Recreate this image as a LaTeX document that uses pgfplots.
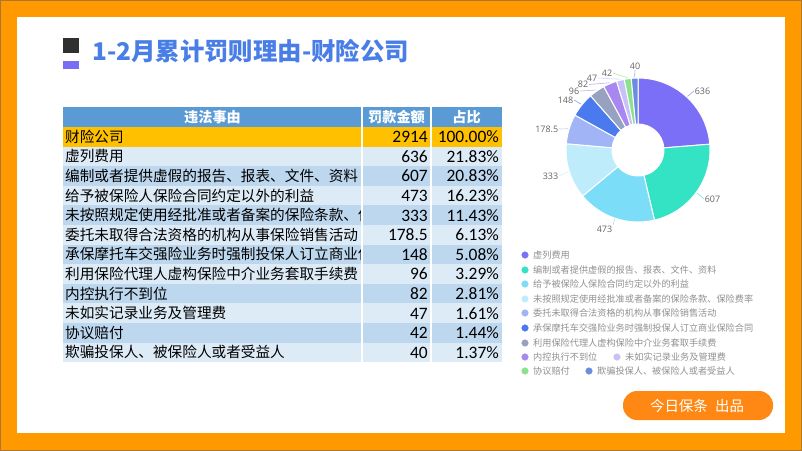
\documentclass[border=0pt]{standalone}
\usepackage{pgfplots}
\pgfplotsset{compat=1.18}
\usepackage{fontspec}
\setmainfont{Carlito}
\newfontfamily\cjk{Noto Sans CJK SC}
\newfontfamily\lab{Open Sans}
\usetikzlibrary{calc}
\definecolor{frame}{RGB}{255,153,0}
\definecolor{frameedge}{RGB}{170,120,50}
\definecolor{titleblue}{RGB}{72,126,230}
\definecolor{darksq}{RGB}{48,48,48}
\definecolor{purplesq}{RGB}{123,108,246}
\definecolor{hdrblue}{RGB}{91,155,213}
\definecolor{rowor}{RGB}{255,192,0}
\definecolor{rowL}{RGB}{221,235,247}
\definecolor{rowD}{RGB}{189,215,238}
\definecolor{btn}{RGB}{255,136,20}
\definecolor{legtext}{RGB}{145,145,145}
\definecolor{labtext}{RGB}{100,100,100}
\definecolor{c1}{RGB}{123,111,247}
\definecolor{c2}{RGB}{52,226,196}
\definecolor{c3}{RGB}{124,221,248}
\definecolor{c4}{RGB}{190,236,250}
\definecolor{c5}{RGB}{160,180,246}
\definecolor{c6}{RGB}{74,122,238}
\definecolor{c7}{RGB}{150,162,192}
\definecolor{c8}{RGB}{168,136,240}
\definecolor{c9}{RGB}{200,192,248}
\definecolor{c10}{RGB}{140,226,140}
\definecolor{c11}{RGB}{108,140,224}
\begin{document}
\begin{tikzpicture}
\begin{axis}[
  width=802bp, height=451bp, scale only axis,
  xmin=0, xmax=802, ymin=0, ymax=451, y dir=reverse,
  hide axis, clip=false,
]
% frame
\fill[frame] (axis cs:0,0) rectangle (axis cs:802,451);
\draw[frameedge, line width=1bp] (axis cs:0.5,0.5) rectangle (axis cs:801.5,450.5);
\fill[white] (axis cs:17,17) rectangle (axis cs:785,433);
% title
\fill[darksq] (axis cs:63,38) rectangle (axis cs:79,53);
\fill[purplesq] (axis cs:63,61) rectangle (axis cs:79,69);
\node[anchor=base west, inner sep=0, text=titleblue, font=\cjk\bfseries\fontsize{24.5}{24.5}\selectfont] at (axis cs:92,60.5) {1-2月累计罚则理由-财险公司};
% table
\pgfplotsextra{
  \fill[hdrblue] (axis cs:63,107) rectangle (axis cs:502,127);
  \foreach \i in {0,...,11}{
    \pgfmathsetmacro\yt{127+19.6*\i}
    \pgfmathsetmacro\yb{127+19.6*(\i+1)}
    \ifnum\i=0 \def\rc{rowor}\else\ifodd\i \def\rc{rowL}\else\def\rc{rowD}\fi\fi
    \fill[\rc] (axis cs:63,\yt) rectangle (axis cs:502,\yb);
  }
  \draw[white, line width=1.2bp] (axis cs:362,107) -- (axis cs:362,362.2);
  \draw[white, line width=1.2bp] (axis cs:431,107) -- (axis cs:431,362.2);
  \node[anchor=base, inner sep=0, text=white, font=\cjk\bfseries\fontsize{14.2}{14.2}\selectfont] at (axis cs:212.5,122.3) {违法事由};
  \node[anchor=base, inner sep=0, text=white, font=\cjk\bfseries\fontsize{14.2}{14.2}\selectfont] at (axis cs:396.5,122.3) {罚款金额};
  \node[anchor=base, inner sep=0, text=white, font=\cjk\bfseries\fontsize{14.2}{14.2}\selectfont] at (axis cs:466.5,122.3) {占比};
  \begin{scope}
    \clip (axis cs:63,127) rectangle (axis cs:360,363);
    \foreach \i/\nm in {0/财险公司,1/虚列费用,2/编制或者提供虚假的报告、报表、文件、资料,3/给予被保险人保险合同约定以外的利益,4/未按照规定使用经批准或者备案的保险条款、保,5/委托未取得合法资格的机构从事保险销售活动,6/承保摩托车交强险业务时强制投保人订立商业保,7/利用保险代理人虚构保险中介业务套取手续费,8/内控执行不到位,9/未如实记录业务及管理费,10/协议赔付,11/欺骗投保人、被保险人或者受益人}{
      \pgfmathsetmacro\yb{127+19.6*\i+9.8+5.4}
      \node[anchor=base west, inner sep=0, text=black, font=\cjk\fontsize{14.7}{14.7}\selectfont] at (axis cs:65,\yb) {\nm};
    }
  \end{scope}
  \foreach \i/\amt/\pc in {0/2914/100.00,1/636/21.83,2/607/20.83,3/473/16.23,4/333/11.43,5/178.5/6.13,6/148/5.08,7/96/3.29,8/82/2.81,9/47/1.61,10/42/1.44,11/40/1.37}{
    \pgfmathsetmacro\yb{127+19.6*\i+9.8+5.8}
    \node[anchor=base east, inner sep=0, text=black, font=\fontsize{17.5}{17.5}\selectfont] at (axis cs:428,\yb) {\amt};
    \node[anchor=base east, inner sep=0, text=black, font=\fontsize{17.5}{17.5}\selectfont] at (axis cs:499,\yb) {\pc\%};
  }
}
% donut
\pgfplotsextra{
  \gdef\tot{0}
  \foreach \v in {636,607,473,333,178.5,148,96,82,47,42,40}{
    \pgfmathsetmacro\nt{\tot+\v}\xdef\tot{\nt}
  }
  \gdef\cum{0}
  \foreach \v/\c/\lx/\ly/\an in {636/c1/694/91/west,607/c2/704/199/west,473/c3/613/225/north east,333/c4/559/176/east,178.5/c5/559/129/east,148/c6/574/100/east,96/c7/580/91/east,82/c8/589/84.5/east,47/c9/598/78/east,42/c10/613/73/east,40/c11/635/70/south}{
    \pgfmathsetmacro\aS{90-360*(\cum/\tot)}
    \pgfmathsetmacro\aE{90-360*((\cum+\v)/\tot)}
    \pgfmathsetmacro\aM{(\aS+\aE)/2}
    \fill[\c, draw=white, line width=1bp] ($(axis cs:638,150)+(\aS:72bp)$) arc[start angle=\aS, end angle=\aE, radius=72bp] -- ($(axis cs:638,150)+(\aE:26bp)$) arc[start angle=\aE, end angle=\aS, radius=26bp] -- cycle;
    \draw[\c!70!white, line width=0.6bp] ($(axis cs:638,150)+(\aM:73bp)$) -- (axis cs:\lx,\ly);
    \node[anchor=\an, inner sep=0.6bp, text=labtext, font=\lab\fontsize{9}{9}\selectfont] at (axis cs:\lx,\ly) {\v};
    \pgfmathsetmacro\nc{\cum+\v}\xdef\cum{\nc}
  }
}
% legend
\addplot[only marks, mark=*, mark size=3.3bp, c1] coordinates {(525,255)};
\addplot[only marks, mark=*, mark size=3.3bp, c2] coordinates {(525,270)};
\addplot[only marks, mark=*, mark size=3.3bp, c3] coordinates {(525,284)};
\addplot[only marks, mark=*, mark size=3.3bp, c4] coordinates {(525,299)};
\addplot[only marks, mark=*, mark size=3.3bp, c5] coordinates {(525,313)};
\addplot[only marks, mark=*, mark size=3.3bp, c6] coordinates {(525,328)};
\addplot[only marks, mark=*, mark size=3.3bp, c7] coordinates {(525,343)};
\addplot[only marks, mark=*, mark size=3.3bp, c8] coordinates {(525,357)};
\addplot[only marks, mark=*, mark size=3.3bp, c9] coordinates {(617,357)};
\addplot[only marks, mark=*, mark size=3.3bp, c10] coordinates {(525,371)};
\addplot[only marks, mark=*, mark size=3.3bp, c11] coordinates {(589,371)};
\pgfplotsextra{
  \foreach \x/\y/\t in {533/255/虚列费用,533/270/编制或者提供虚假的报告、报表、文件、资料,533/284/给予被保险人保险合同约定以外的利益,533/299/未按照规定使用经批准或者备案的保险条款、保险费率,533/313/委托未取得合法资格的机构从事保险销售活动,533/328/承保摩托车交强险业务时强制投保人订立商业保险合同,533/343/利用保险代理人虚构保险中介业务套取手续费,533/357/内控执行不到位,625/357/未如实记录业务及管理费,533/371/协议赔付,597/371/欺骗投保人、被保险人或者受益人}{
    \node[anchor=west, inner sep=0, text=legtext, font=\cjk\fontsize{9.2}{9.2}\selectfont] at (axis cs:\x,\y) {\t};
  }
  % button
  \fill[btn, rounded corners=14bp] (axis cs:623,391) rectangle (axis cs:773,420);
  \node[anchor=center, inner sep=0, text=white, font=\cjk\fontsize{14.5}{14.5}\selectfont] at (axis cs:697,405.5) {今日保条\hspace{0.5em}出品};
}
\end{axis}
\end{tikzpicture}
\end{document}
